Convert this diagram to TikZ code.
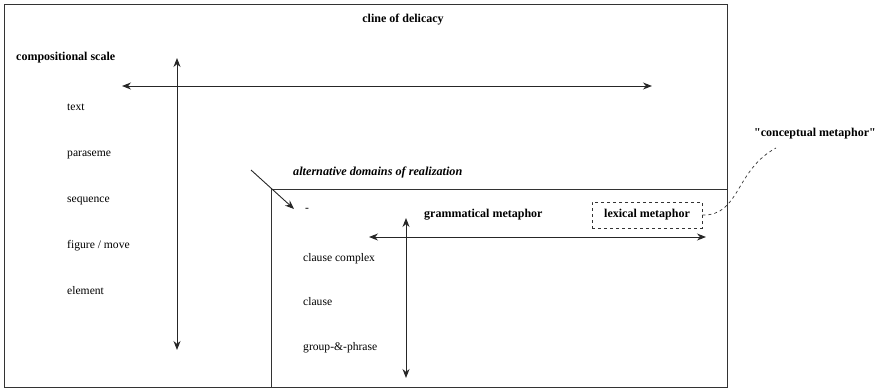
\documentclass[tikz,border=0pt]{standalone}
\usepackage{fontspec}
\setmainfont{Liberation Serif}
% same face without TeX ligature mapping, so straight quotes stay straight
\newfontfamily\qfont{Liberation Serif}
\usetikzlibrary{arrows.meta}
\begin{document}
\begin{tikzpicture}[x=1pt,y=-1pt,
  frame/.style={draw=black!80,line width=1pt},
  axis/.style={draw=black!85,line width=1pt,{Stealth[length=9pt,width=7pt]}-{Stealth[length=9pt,width=7pt]}},
  lbl/.style={font=\fontsize{11.6}{13}\selectfont,anchor=west,inner sep=0pt},
  head/.style={font=\fontsize{12}{14}\selectfont\bfseries,inner sep=0pt},
  itl/.style={font=\fontsize{12.2}{14}\selectfont\bfseries\itshape,inner sep=0pt}]
\useasboundingbox (0,0) rectangle (879,389);
% outer and inner frames
\draw[frame] (4,4) rectangle (727,387);
\draw[frame] (271,189) rectangle (727,387);
% headings
\node[head] (delicacy) at (403,20) {cline of delicacy};
\node[head,anchor=west] (compscale) at (16,58) {compositional scale};
\node[itl,anchor=west] (altdom) at (293,172) {alternative domains of realization};
\node[head,anchor=west] (gm) at (424,215) {grammatical metaphor};
\node[head,anchor=east] (cm) at (876,134) {\qfont\bfseries "conceptual metaphor"};
\node[head,draw=black!80,dashed,line width=0.8pt,minimum width=110pt,minimum height=26pt] (lm) at (647,215) {lexical metaphor};
% outer axes
\coordinate (hl) at (122,86); \coordinate (hr) at (652,86);
\coordinate (vt) at (177,58); \coordinate (vb) at (177,350);
\draw[axis] (hl) -- (hr);
\draw[axis] (vt) -- (vb);
% rank scale
\node[lbl] (t1) at (67,107) {text};
\node[lbl] (t2) at (67,155) {paraseme};
\node[lbl] (t3) at (67,201) {sequence};
\node[lbl] (t4) at (67,246) {figure / move};
\node[lbl] (t5) at (67,291) {element};
% pointer into the inner domain
\coordinate (ps) at (251,170); \coordinate (pe) at (294,209);
\draw[draw=black!85,line width=0.9pt,-{Stealth[length=9pt,width=7pt]}] (ps) -- (pe);
\node[lbl] (dash) at (305,210) {-};
% inner axes
\coordinate (ihl) at (369,237); \coordinate (ihr) at (706,237);
\coordinate (ivt) at (406,218); \coordinate (ivb) at (406,378);
\draw[axis] (ihl) -- (ihr);
\draw[axis] (ivt) -- (ivb);
\node[lbl] (c1) at (303,259) {clause complex};
\node[lbl] (c2) at (303,302) {clause};
\node[lbl] (c3) at (303,348) {group-\&-phrase};
% link to conceptual metaphor
\coordinate (cmend) at (776,148);
\draw[black!80,dashed,line width=0.7pt] (lm.east) .. controls (740,216) and (735,170) .. (cmend);
\end{tikzpicture}
\end{document}
